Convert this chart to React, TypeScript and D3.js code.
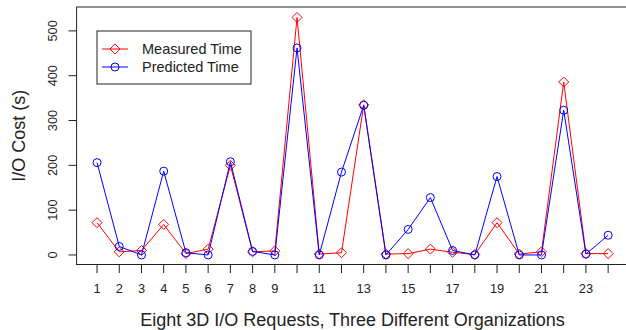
import { useEffect, useRef } from 'react';
import * as d3 from 'd3';

const requests = d3.range(1, 25);
const measured = [72, 7, 10, 68, 3, 13, 200, 7, 9, 530, 2, 5, 335, 2, 3, 13, 6, 1, 72, 2, 7, 386, 3, 3];
const predicted = [206, 19, 0, 187, 5, 0, 208, 8, 0, 462, 0, 185, 334, 0, 57, 128, 10, 0, 175, 0, 0, 323, 2, 44];
const xTickLabels = [1, 2, 3, 4, 5, 6, 7, 8, 9, 11, 13, 15, 17, 19, 21, 23];
const yTicks = [0, 100, 200, 300, 400, 500];
const seriesNames = ['Measured Time', 'Predicted Time'];

const FONT = '"Liberation Sans", Arial, Helvetica, sans-serif';

export default function App() {
  const svgRef = useRef<SVGSVGElement>(null);
  const width = 626;
  const height = 330;

  useEffect(() => {
    if (!svgRef.current) return;
    document.body.style.margin = '0';
    const svg = d3.select(svgRef.current);
    svg.selectAll('*').remove();

    // R-style 4% axis extension
    const xMin = 1 - 23 * 0.04;
    const xMax = 24 + 23 * 0.04;
    const yMaxData = 532;
    const x = d3.scaleLinear().domain([xMin, xMax]).range([76.6, 628.6]);
    const y = d3.scaleLinear().domain([-yMaxData * 0.04, yMaxData * 1.04]).range([264.5, 7]);

    svg
      .append('rect')
      .attr('x', x(xMin))
      .attr('y', y(yMaxData * 1.04))
      .attr('width', x(xMax) - x(xMin))
      .attr('height', y(-yMaxData * 0.04) - y(yMaxData * 1.04))
      .attr('fill', 'none')
      .attr('stroke', '#222')
      .attr('stroke-width', 1);

    // x axis ticks
    const xAxis = svg.append('g');
    xAxis
      .selectAll('line')
      .data(requests)
      .join('line')
      .attr('x1', (d) => x(d))
      .attr('x2', (d) => x(d))
      .attr('y1', 264.5)
      .attr('y2', 273)
      .attr('stroke', '#222');
    xAxis
      .selectAll('text')
      .data(xTickLabels)
      .join('text')
      .attr('x', (d) => x(d))
      .attr('y', 293)
      .attr('text-anchor', 'middle')
      .style('font-family', FONT)
      .style('font-size', '12.8px')
      .style('fill', '#222')
      .text((d) => d);

    // y axis ticks
    const yAxis = svg.append('g');
    yAxis
      .selectAll('line')
      .data(yTicks)
      .join('line')
      .attr('x1', 76.6)
      .attr('x2', 68.5)
      .attr('y1', (d) => y(d))
      .attr('y2', (d) => y(d))
      .attr('stroke', '#222');
    yAxis
      .selectAll('text')
      .data(yTicks)
      .join('text')
      .attr('transform', (d) => `translate(57,${y(d)}) rotate(-90)`)
      .attr('text-anchor', 'middle')
      .style('font-family', FONT)
      .style('font-size', '12.8px')
      .style('fill', '#222')
      .text((d) => d);

    svg
      .append('text')
      .attr('x', (x(xMin) + x(xMax)) / 2)
      .attr('y', 326)
      .attr('text-anchor', 'middle')
      .style('font-family', FONT)
      .style('font-size', '18px')
      .style('fill', '#222')
      .text('Eight 3D I/O Requests, Three Different Organizations');

    svg
      .append('text')
      .attr('transform', `translate(24.5,${(7 + 264.5) / 2}) rotate(-90)`)
      .attr('text-anchor', 'middle')
      .style('font-family', FONT)
      .style('font-size', '18px')
      .style('fill', '#222')
      .text('I/O Cost (s)');

    const line = d3
      .line<number>()
      .x((_, i) => x(requests[i]))
      .y((d) => y(d));

    const diamond = (cx: number, cy: number, r = 5) =>
      `M${cx},${cy - r}L${cx + r},${cy}L${cx},${cy + r}L${cx - r},${cy}Z`;

    // measured
    svg
      .append('path')
      .datum(measured)
      .attr('d', line)
      .attr('fill', 'none')
      .attr('stroke', '#ff0000')
      .attr('stroke-width', 1);
    svg
      .append('g')
      .selectAll('path')
      .data(measured)
      .join('path')
      .attr('d', (d, i) => diamond(x(requests[i]), y(d)))
      .attr('fill', 'none')
      .attr('stroke', '#ff0000')
      .attr('stroke-width', 1);

    // predicted
    svg
      .append('path')
      .datum(predicted)
      .attr('d', line)
      .attr('fill', 'none')
      .attr('stroke', '#0000ff')
      .attr('stroke-width', 1);
    svg
      .append('g')
      .selectAll('circle')
      .data(predicted)
      .join('circle')
      .attr('cx', (_, i) => x(requests[i]))
      .attr('cy', (d) => y(d))
      .attr('r', 4)
      .attr('fill', 'none')
      .attr('stroke', '#0000ff')
      .attr('stroke-width', 1);

    // legend
    const legend = svg.append('g');
    legend
      .append('rect')
      .attr('x', 97)
      .attr('y', 31)
      .attr('width', 154)
      .attr('height', 53)
      .attr('fill', '#fff')
      .attr('stroke', '#222');
    const colors = ['#ff0000', '#0000ff'];
    seriesNames.forEach((name, i) => {
      const ly = 49 + i * 18;
      legend
        .append('line')
        .attr('x1', 102)
        .attr('x2', 128)
        .attr('y1', ly)
        .attr('y2', ly)
        .attr('stroke', colors[i]);
      if (i === 0) {
        legend
          .append('path')
          .attr('d', diamond(115, ly))
          .attr('fill', 'none')
          .attr('stroke', colors[i]);
      } else {
        legend
          .append('circle')
          .attr('cx', 115)
          .attr('cy', ly)
          .attr('r', 4)
          .attr('fill', 'none')
          .attr('stroke', colors[i]);
      }
      legend
        .append('text')
        .attr('x', 142)
        .attr('y', ly + 5)
        .style('font-family', FONT)
        .style('font-size', '14.5px')
        .style('fill', '#222')
        .text(name);
    });
  }, []);

  return <svg ref={svgRef} width={width} height={height} style={{ display: 'block' }}></svg>;
}
